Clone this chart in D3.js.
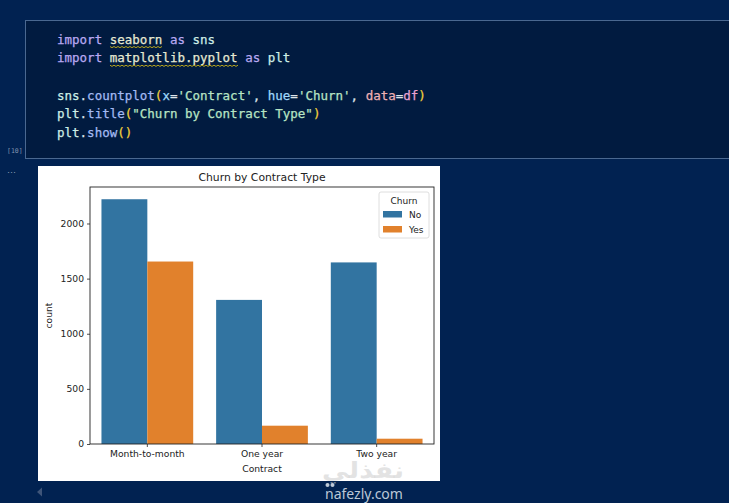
<!DOCTYPE html>
<html>
<head>
<meta charset="utf-8">
<script src="https://cdn.jsdelivr.net/npm/d3@7"></script>
<style>
  html, body { margin: 0; padding: 0; background: #012251; overflow: hidden; }
  svg { display: block; }
</style>
</head>
<body>
<div id="page"></div>
<script>
// chart values
var contracts = ["Month-to-month", "One year", "Two year"];
var churnLevels = ["No", "Yes"];
var countsNo = [2220, 1307, 1647];
var countsYes = [1655, 166, 48];
var yTicks = [0, 500, 1000, 1500, 2000];
var yMax = 2331;

// notebook cell source, as tokens [text, kind]
var codeLines = [
  [["import", "kw"], [" ", "op"], ["seaborn", "mod"], [" ", "op"], ["as", "kw"], [" sns", "var"]],
  [["import", "kw"], [" ", "op"], ["matplotlib.pyplot", "mod"], [" ", "op"], ["as", "kw"], [" plt", "var"]],
  [],
  [["sns", "var"], [".", "op"], ["countplot", "fn"], ["(", "par"], ["x", "arg"], ["=", "op"], ["'Contract'", "str"],
   [", ", "op"], ["hue", "arg"], ["=", "op"], ["'Churn'", "str"], [", ", "op"], ["data", "arg2"], ["=", "op"], ["df", "df"], [")", "par"]],
  [["plt", "var"], [".", "op"], ["title", "fn"], ["(", "par"], ["\"Churn by Contract Type\"", "str"], [")", "par"]],
  [["plt", "var"], [".", "op"], ["show", "fn"], ["()", "par"]]
];
var tokenColour = {
  kw: "#b9a9f2", mod: "#e6e9d2", var: "#cdeee6", op: "#dfe4ea", fn: "#a3baf2",
  par: "#f2cf3a", arg: "#9fd8fb", arg2: "#eeb0b4", df: "#e9a2d2", str: "#b7e4c4"
};

var W = 729, H = 503;
var svg = d3.select("#page").append("svg")
    .attr("width", W)
    .attr("height", H);

svg.append("rect").attr("width", W).attr("height", H).attr("fill", "#012251");

// ---- code cell ----
svg.append("rect")
    .attr("x", 25.5).attr("y", 20.5)
    .attr("width", W).attr("height", 138)
    .attr("fill", "#011b40")
    .attr("stroke", "#4a6890")
    .attr("stroke-width", 1);

var lineH = 18.7, codeX = 57, codeY = 43.5, charW = 7.57;
codeLines.forEach(function(tokens, i) {
  var t = svg.append("text")
      .attr("x", codeX)
      .attr("y", codeY + i * lineH)
      .attr("font-family", "'DejaVu Sans Mono', monospace")
      .attr("font-size", 12.5)
      .attr("stroke-width", 0.25)
      .attr("xml:space", "preserve")
      .style("white-space", "pre");
  var col = 0;
  tokens.forEach(function(tok) {
    t.append("tspan")
        .attr("fill", tokenColour[tok[1]])
        .attr("stroke", tokenColour[tok[1]])
        .text(tok[0]);
    if (tok[1] === "mod") {
      // squiggly underline under unresolved imports
      var x0 = codeX + col * charW, x1 = x0 + tok[0].length * charW;
      var y0 = codeY + i * lineH + 3;
      var pts = d3.range(x0, x1 + 0.1, 2).map(function(x, k) { return [x, y0 + (k % 2 ? 1.2 : 0)]; });
      svg.append("path")
          .attr("d", d3.line()(pts))
          .attr("fill", "none")
          .attr("stroke", "#c9b31a")
          .attr("stroke-width", 0.9);
    }
    col += tok[0].length;
  });
});

svg.append("text").attr("x", 7).attr("y", 153)
    .attr("font-family", "'DejaVu Sans Mono', monospace").attr("font-size", 6.5)
    .attr("fill", "#8395b0").text("[10]");
svg.append("text").attr("x", 7).attr("y", 173)
    .attr("font-family", "'DejaVu Sans', sans-serif").attr("font-size", 9)
    .attr("fill", "#8395b0").text("…");

// ---- figure ----
svg.append("rect")
    .attr("x", 38).attr("y", 166)
    .attr("width", 402).attr("height", 315)
    .attr("fill", "#ffffff");

var margin = {left: 90, right: 434, top: 187, bottom: 444};
var ink = "#222222";
var font = "'DejaVu Sans', sans-serif";

var x = d3.scaleBand()
    .domain(contracts)
    .range([margin.left, margin.right])
    .paddingInner(0.2)
    .paddingOuter(0.1);
var xHue = d3.scaleBand()
    .domain(churnLevels)
    .range([0, x.bandwidth()]);
var y = d3.scaleLinear()
    .domain([0, yMax])
    .range([margin.bottom, margin.top]);
var colour = d3.scaleOrdinal()
    .domain(churnLevels)
    .range(["#3274a1", "#e1812c"]);

var rows = contracts.map(function(c, i) {
  return {contract: c, No: countsNo[i], Yes: countsYes[i]};
});

var groups = svg.append("g")
  .selectAll("g")
  .data(rows)
  .enter()
  .append("g")
    .attr("transform", function(d) { return "translate(" + x(d.contract) + ",0)"; });

groups.selectAll("rect")
    .data(function(d) { return churnLevels.map(function(k) { return {key: k, value: d[k]}; }); })
    .enter()
    .append("rect")
      .attr("x", function(d) { return xHue(d.key); })
      .attr("y", function(d) { return y(d.value); })
      .attr("width", xHue.bandwidth())
      .attr("height", function(d) { return y(0) - y(d.value); })
      .attr("fill", function(d) { return colour(d.key); });

// axes
var gx = svg.append("g")
    .attr("transform", "translate(0," + margin.bottom + ")")
    .call(d3.axisBottom(x).tickSizeOuter(0).tickSize(3).tickPadding(3));
var gy = svg.append("g")
    .attr("transform", "translate(" + margin.left + ",0)")
    .call(d3.axisLeft(y).tickValues(yTicks).tickFormat(d3.format("d"))
      .tickSizeOuter(0).tickSize(3).tickPadding(3));

[gx, gy].forEach(function(g) {
  g.select(".domain").remove();
  g.selectAll("line").attr("stroke", ink).attr("stroke-width", 0.8);
  g.selectAll("text").attr("font-family", font).attr("font-size", 9.2).attr("fill", ink);
});

// spines
svg.append("rect")
    .attr("x", margin.left).attr("y", margin.top)
    .attr("width", margin.right - margin.left)
    .attr("height", margin.bottom - margin.top)
    .attr("fill", "none")
    .attr("stroke", ink)
    .attr("stroke-width", 0.9);

svg.append("text")
    .attr("x", (margin.left + margin.right) / 2).attr("y", 181)
    .attr("text-anchor", "middle")
    .attr("font-family", font).attr("font-size", 10.8).attr("fill", ink)
    .text("Churn by Contract Type");

svg.append("text")
    .attr("x", (margin.left + margin.right) / 2).attr("y", 472)
    .attr("text-anchor", "middle")
    .attr("font-family", font).attr("font-size", 9.2).attr("fill", ink)
    .text("Contract");

svg.append("text")
    .attr("transform", "translate(52," + (margin.top + margin.bottom) / 2 + ") rotate(-90)")
    .attr("text-anchor", "middle")
    .attr("font-family", font).attr("font-size", 9.2).attr("fill", ink)
    .text("count");

// legend
var lg = svg.append("g").attr("transform", "translate(379,192)");
lg.append("rect")
    .attr("width", 50).attr("height", 46)
    .attr("rx", 2)
    .attr("fill", "#ffffff").attr("fill-opacity", 0.8)
    .attr("stroke", "#d6d6d6").attr("stroke-width", 0.8);
lg.append("text")
    .attr("x", 25).attr("y", 11.5)
    .attr("text-anchor", "middle")
    .attr("font-family", font).attr("font-size", 9).attr("fill", ink)
    .text("Churn");
churnLevels.forEach(function(k, i) {
  lg.append("rect")
      .attr("x", 4).attr("y", 19 + i * 15)
      .attr("width", 19).attr("height", 6.5)
      .attr("fill", colour(k));
  lg.append("text")
      .attr("x", 30).attr("y", 25.5 + i * 15)
      .attr("font-family", font).attr("font-size", 9).attr("fill", ink)
      .text(k);
});

// scrollbar arrow
svg.append("path")
    .attr("d", "M37,492 L42,487.5 L42,496.5 Z")
    .attr("fill", "#3f5579");

// watermark
svg.append("text")
    .attr("x", 322).attr("y", 478)
    .attr("textLength", 82)
    .attr("lengthAdjust", "spacingAndGlyphs")
    .attr("font-family", "'DejaVu Sans', sans-serif")
    .attr("font-size", 22).attr("font-weight", "bold")
    .attr("fill", "#c8c8c8").attr("fill-opacity", 0.5)
    .text("نفذلي");
svg.append("text")
    .attr("x", 364).attr("y", 499)
    .attr("text-anchor", "middle")
    .attr("font-family", "'Noto Sans', 'DejaVu Sans', sans-serif")
    .attr("font-size", 14)
    .attr("fill", "#dfe6f0").attr("fill-opacity", 0.85)
    .text("nafezly.com");
[327.5, 332.5].forEach(function(cx) {
  svg.append("circle").attr("cx", cx).attr("cy", 485).attr("r", 2)
      .attr("fill", "#dfe6f0").attr("fill-opacity", 0.85);
});
</script>
</body>
</html>
